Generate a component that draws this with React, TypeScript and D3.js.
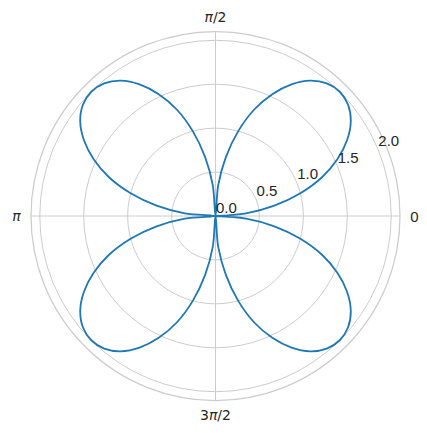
import React from "react";
import * as d3 from "d3";

// Angles (degrees) and radii
const thetaDeg: number[] = [
  0, 5, 10, 15, 20, 25, 30, 35, 40, 45, 50, 55, 60, 65, 70, 75, 80, 85,
  90, 95, 100, 105, 110, 115, 120, 125, 130, 135, 140, 145, 150, 155, 160, 165, 170, 175,
  180, 185, 190, 195, 200, 205, 210, 215, 220, 225, 230, 235, 240, 245, 250, 255, 260, 265,
  270, 275, 280, 285, 290, 295, 300, 305, 310, 315, 320, 325, 330, 335, 340, 345, 350, 355, 360,
];
const rValues: number[] = [
  0, 0.35, 0.68, 1.0, 1.29, 1.53, 1.73, 1.88, 1.97, 2.0, 1.97, 1.88, 1.73, 1.53, 1.29, 1.0, 0.68, 0.35,
  0, 0.35, 0.68, 1.0, 1.29, 1.53, 1.73, 1.88, 1.97, 2.0, 1.97, 1.88, 1.73, 1.53, 1.29, 1.0, 0.68, 0.35,
  0, 0.35, 0.68, 1.0, 1.29, 1.53, 1.73, 1.88, 1.97, 2.0, 1.97, 1.88, 1.73, 1.53, 1.29, 1.0, 0.68, 0.35,
  0, 0.35, 0.68, 1.0, 1.29, 1.53, 1.73, 1.88, 1.97, 2.0, 1.97, 1.88, 1.73, 1.53, 1.29, 1.0, 0.68, 0.35, 0,
];
const rTicks: number[] = [0, 0.5, 1.0, 1.5, 2.0];
const rTickLabels: string[] = ["0.0", "0.5", "1.0", "1.5", "2.0"];
const rMax = 2.1;
const thetaTicksDeg: number[] = [0, 90, 180, 270];
const thetaTickLabels: { pre: string; pi: boolean; post: string }[] = [
  { pre: "0", pi: false, post: "" },
  { pre: "", pi: true, post: "/2" },
  { pre: "", pi: true, post: "" },
  { pre: "3", pi: true, post: "/2" },
];
const rLabelAngleDeg = 22.5;

export default function App() {
  const W = 427, H = 433;
  const cx = 215.5, cy = 216;
  const r = d3.scaleLinear().domain([0, rMax]).range([0, 184.5]);
  const toRad = (d: number) => (d * Math.PI) / 180;

  const pts = thetaDeg.map((t, i) => ({ t: toRad(t), r: rValues[i] }));
  const line = d3
    .lineRadial<{ t: number; r: number }>()
    .angle((d) => Math.PI / 2 - d.t)
    .radius((d) => r(d.r))
    .curve(d3.curveCatmullRom.alpha(0.5));

  const grid = "#cccccc";
  const textColor = "#262626";
  const sans = "Arial, 'Liberation Sans', sans-serif";
  const math = "'DejaVu Sans', sans-serif";
  const la = toRad(rLabelAngleDeg);
  const fs = 15;

  return (
    <svg
      width={W}
      height={H}
      style={{ position: "absolute", left: 0, top: 0, background: "#fff" }}
    >
      <rect width={W} height={H} fill="#fff" />
      <g transform={`translate(${cx},${cy})`}>
        {rTicks
          .filter((v) => v > 0)
          .map((v) => (
            <circle key={v} r={r(v)} fill="none" stroke={grid} strokeWidth={1} />
          ))}
        {thetaTicksDeg.map((t) => (
          <line
            key={t}
            x1={0}
            y1={0}
            x2={r(rMax) * Math.cos(toRad(t))}
            y2={-r(rMax) * Math.sin(toRad(t))}
            stroke={grid}
            strokeWidth={1}
          />
        ))}
        <circle r={r(rMax)} fill="none" stroke={grid} strokeWidth={1.25} />
        <path d={line(pts) || ""} fill="none" stroke="#1f77b4" strokeWidth={1.8} />
        {rTicks.map((v, i) => (
          <text
            key={v}
            x={r(v) * Math.cos(la) + 0.5}
            y={-r(v) * Math.sin(la) - 3}
            style={{ fontFamily: sans, fontSize: `${fs}px` }}
            fill={textColor}
            textAnchor="start"
          >
            {rTickLabels[i]}
          </text>
        ))}
        {thetaTicksDeg.map((t, i) => {
          const L = thetaTickLabels[i];
          const R = r(rMax) + 14.5;
          return (
            <text
              key={t}
              x={R * Math.cos(toRad(t))}
              y={-R * Math.sin(toRad(t))}
              style={{ fontFamily: L.pi ? math : sans, fontSize: `${L.pi ? 14 : fs}px` }}
              fill={textColor}
              textAnchor="middle"
              dominantBaseline="central"
            >
              {L.pre}
              {L.pi ? <tspan fontStyle="italic">π</tspan> : null}
              {L.post}
            </text>
          );
        })}
      </g>
    </svg>
  );
}
